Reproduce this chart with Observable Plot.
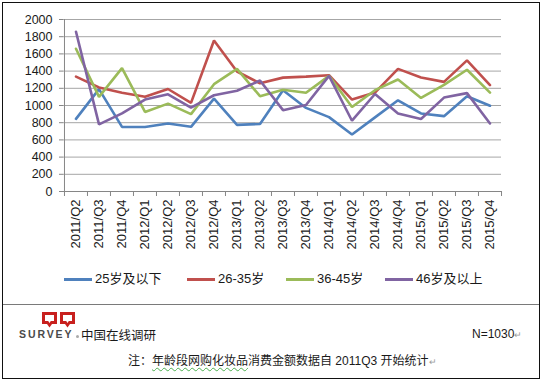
<!DOCTYPE html>
<html><head><meta charset="utf-8">
<script src="https://cdn.jsdelivr.net/npm/d3@7"></script>
<script src="https://cdn.jsdelivr.net/npm/@observablehq/plot@0.6"></script>
<style>
body{margin:0;background:#fff;}
#wrap{position:relative;width:546px;height:384px;overflow:hidden;font-family:"Liberation Sans","Noto Sans CJK SC",sans-serif;color:#1a1a1a;}
#chart{position:absolute;left:0;top:0;}
.box{position:absolute;left:2px;top:2px;width:536px;height:375px;border:1.5px solid #111;}
.divider{position:absolute;left:3px;top:304px;width:536px;height:0;border-top:1.5px solid #7a7a7a;}
.leg{position:absolute;top:271px;font-size:13px;line-height:16px;white-space:nowrap;display:flex;align-items:center;}
.leg i{display:inline-block;width:28px;height:3px;margin-right:3px;}
.abs{position:absolute;white-space:nowrap;}
.pm{color:#9a9a9a;font-size:9px;}
</style></head>
<body><div id="wrap"><div id="chart"></div><div class="box"></div><div class="divider"></div><div id="legend"></div><div id="footer"></div></div>
<script>
const quarters = ["2011/Q2","2011/Q3","2011/Q4","2012/Q1","2012/Q2","2012/Q3","2012/Q4","2013/Q1","2013/Q2","2013/Q3","2013/Q4","2014/Q1","2014/Q2","2014/Q3","2014/Q4","2015/Q1","2015/Q2","2015/Q3","2015/Q4"];
const seriesNames = ["25岁及以下","26-35岁","36-45岁","46岁及以上"];
const seriesColors = ["#4F81BD","#C0504D","#9BBB59","#8064A2"];
const age25 = [845,1190,752,750,790,752,1080,775,785,1178,972,865,663,862,1061,907,876,1107,997];
const age26_35 = [1335,1210,1148,1102,1192,1030,1755,1395,1258,1324,1336,1352,1069,1150,1426,1326,1275,1525,1238];
const age36_45 = [1660,1100,1434,925,1022,900,1248,1425,1108,1184,1148,1345,983,1178,1302,1088,1240,1416,1150];
const age46 = [1858,781,908,1069,1130,976,1119,1172,1290,946,1006,1345,823,1134,907,843,1092,1144,791];
const yTicks = [0,200,400,600,800,1000,1200,1400,1600,1800,2000];

const allValues = [age25, age26_35, age36_45, age46];
const rows = seriesNames.flatMap((name, s) => quarters.map((q, i) => ({q, v: allValues[s][i], s: name})));

const W = 546, ML = 63, MR = 45;
const bw = (W - ML - MR) / quarters.length;
const axisColor = "#868686";

const chart = Plot.plot({
  width: W, height: 260,
  marginLeft: ML, marginRight: MR, marginTop: 19, marginBottom: 69,
  x: {type: "band", domain: quarters, padding: 0},
  y: {domain: [0, 2000]},
  color: {domain: seriesNames, range: seriesColors},
  style: {fontFamily: '"Liberation Sans","Noto Sans CJK SC",sans-serif', fontSize: "12.5px", color: "#1a1a1a", background: "transparent", overflow: "visible"},
  marks: [
    Plot.gridY(yTicks.slice(1), {stroke: "#a6a6a6", strokeOpacity: 1}),
    Plot.axisY(yTicks, {tickSize: 4, tickPadding: 7, label: null, stroke: axisColor, fontSize: 12.5, tickFormat: d => String(d)}),
    Plot.ruleY([0], {stroke: axisColor}),
    Plot.ruleX([quarters[0]], {dx: -bw / 2, y1: 0, y2: 2000, stroke: axisColor}),
    Plot.ruleX(quarters, {x: d => d, y1: 0, y2: 0, insetBottom: -5, dx: -bw / 2, stroke: axisColor}),
    Plot.ruleX([quarters[quarters.length - 1]], {y1: 0, y2: 0, insetBottom: -5, dx: bw / 2, stroke: axisColor}),
    Plot.line(rows, {x: "q", y: "v", z: "s", stroke: "s", strokeWidth: 2.6, strokeLinejoin: "miter"}),
    Plot.axisX({tickRotate: -90, tickSize: 0, tickPadding: 8, label: null, fontSize: 13})
  ]
});
document.getElementById("chart").appendChild(chart);

// legend
const legX = [64, 187, 286, 385];
const legend = document.getElementById("legend");
seriesNames.forEach((name, i) => {
  const d = document.createElement("div");
  d.className = "leg";
  d.style.left = legX[i] + "px";
  d.innerHTML = `<i style="background:${seriesColors[i]}"></i><span>${name}</span>`;
  legend.appendChild(d);
});

// footer
document.getElementById("footer").innerHTML = `
<svg class="abs" style="left:42px;top:312px" width="34" height="16" viewBox="0 0 34 16">
  <g fill="#c8201e">
    <path d="M0 0H15V12H10L7.5 15.5L5 12H0Z M3 3V9H6.2L7.5 11L8.8 9H12V3Z" fill-rule="evenodd"/>
    <path transform="translate(18,0)" d="M0 0H15V12H10L7.5 15.5L5 12H0Z M3 3V9H6.2L7.5 11L8.8 9H12V3Z" fill-rule="evenodd"/>
  </g>
</svg>
<div class="abs" style="left:19px;top:328px;font-size:10.5px;font-weight:bold;letter-spacing:1.9px;color:#4a4a4a;line-height:12px">SURVEY</div>
<div class="abs" style="left:76px;top:335px;width:3px;height:3px;border-radius:2px;background:#aaa"></div>
<div class="abs" style="left:81px;top:328px;font-size:12.5px;line-height:16px;color:#1a1a1a">中国在线调研</div>
<div class="abs" style="left:472px;top:326px;font-size:12px;line-height:16px;color:#1a1a1a">N=1030<span class="pm">↵</span></div>
<div class="abs" style="left:128px;top:353px;font-size:12px;line-height:16px;color:#1a1a1a">注：<span style="text-decoration:underline wavy #4caf50;text-decoration-thickness:1px;text-underline-offset:2px">年龄段网购化妆品</span>消费金额数据自 2011Q3 开始统计<span class="pm">↵</span></div>
`;
</script></body></html>
